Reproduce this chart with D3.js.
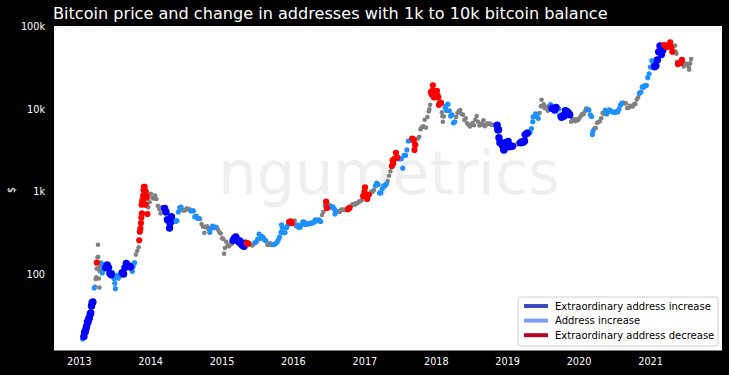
<!DOCTYPE html>
<html><head><meta charset="utf-8">
<script src="https://cdn.jsdelivr.net/npm/d3@7"></script>
<style>body{margin:0;background:#000}svg{display:block}</style>
</head><body>
<svg id="chart" width="729" height="375"></svg>
<script>
// category codes: 0 = no significant change, 1 = address increase,
// 2 = extraordinary address increase, 3 = extraordinary address decrease
const dates = [
"2013-01-20","2013-01-24","2013-01-27","2013-01-31","2013-02-03","2013-02-07","2013-02-10","2013-02-14","2013-02-17","2013-02-21","2013-02-24","2013-02-28","2013-03-03","2013-03-07","2013-03-10","2013-03-14","2013-03-17","2013-03-21","2013-03-24","2013-03-28","2013-03-31","2013-04-02","2013-04-03","2013-04-05","2013-04-07","2013-04-09","2013-04-10","2013-04-12","2013-04-14","2013-04-16","2013-04-18","2013-04-21","2013-04-24","2013-04-28","2013-05-01","2013-05-05","2013-05-12","2013-05-19","2013-05-26","2013-06-02","2013-06-09","2013-06-16","2013-06-23","2013-06-30","2013-07-04","2013-07-07","2013-07-14","2013-07-21","2013-07-28","2013-08-04","2013-08-11","2013-08-18","2013-08-25","2013-09-01","2013-09-08","2013-09-15","2013-09-22","2013-09-29","2013-10-02","2013-10-06","2013-10-13","2013-10-20","2013-10-27","2013-11-03","2013-11-06","2013-11-09","2013-11-12","2013-11-15","2013-11-17","2013-11-18","2013-11-20","2013-11-22","2013-11-24","2013-11-26","2013-11-28","2013-11-30","2013-12-02","2013-12-04","2013-12-06","2013-12-08","2013-12-10","2013-12-12","2013-12-15","2013-12-18","2013-12-22","2013-12-29",
"2014-01-05","2014-01-12","2014-01-19","2014-01-26","2014-02-02","2014-02-09","2014-02-16","2014-02-23","2014-03-02","2014-03-09","2014-03-16","2014-03-23","2014-03-30","2014-04-06","2014-04-10","2014-04-13","2014-04-20","2014-04-27","2014-05-04","2014-05-11","2014-05-18","2014-05-25","2014-06-01","2014-06-08","2014-06-15","2014-06-22","2014-06-29","2014-07-06","2014-07-13","2014-07-20","2014-07-27","2014-08-03","2014-08-10","2014-08-17","2014-08-24","2014-08-31","2014-09-07","2014-09-14","2014-09-21","2014-09-28","2014-10-05","2014-10-12","2014-10-19","2014-10-26","2014-11-02","2014-11-09","2014-11-16","2014-11-23","2014-11-30","2014-12-07","2014-12-14","2014-12-21","2014-12-28",
"2015-01-04","2015-01-11","2015-01-14","2015-01-18","2015-01-25","2015-02-01","2015-02-08","2015-02-15","2015-02-22","2015-03-01","2015-03-08","2015-03-15","2015-03-22","2015-03-29","2015-04-05","2015-04-12","2015-04-19","2015-04-26","2015-05-03","2015-05-10","2015-05-17","2015-05-24","2015-05-31","2015-06-07","2015-06-14","2015-06-21","2015-06-28","2015-07-05","2015-07-12","2015-07-19","2015-07-26","2015-08-02","2015-08-09","2015-08-16","2015-08-23","2015-08-30","2015-09-06","2015-09-13","2015-09-20","2015-09-27","2015-10-04","2015-10-11","2015-10-18","2015-10-25","2015-11-01","2015-11-04","2015-11-08","2015-11-15","2015-11-22","2015-11-29","2015-12-06","2015-12-13","2015-12-20","2015-12-27",
"2016-01-03","2016-01-10","2016-01-17","2016-01-24","2016-01-31","2016-02-07","2016-02-14","2016-02-21","2016-02-28","2016-03-06","2016-03-13","2016-03-20","2016-03-27","2016-04-03","2016-04-10","2016-04-17","2016-04-24","2016-05-01","2016-05-08","2016-05-15","2016-05-22","2016-05-29","2016-06-05","2016-06-12","2016-06-16","2016-06-19","2016-06-23","2016-06-26","2016-07-03","2016-07-10","2016-07-17","2016-07-24","2016-07-31","2016-08-03","2016-08-07","2016-08-14","2016-08-21","2016-08-28","2016-09-04","2016-09-11","2016-09-18","2016-09-25","2016-10-02","2016-10-09","2016-10-16","2016-10-23","2016-10-30","2016-11-06","2016-11-13","2016-11-20","2016-11-27","2016-12-04","2016-12-11","2016-12-18","2016-12-25",
"2017-01-01","2017-01-04","2017-01-08","2017-01-15","2017-01-22","2017-01-29","2017-02-05","2017-02-12","2017-02-19","2017-02-26","2017-03-05","2017-03-12","2017-03-19","2017-03-26","2017-04-02","2017-04-09","2017-04-16","2017-04-23","2017-04-30","2017-05-07","2017-05-14","2017-05-21","2017-05-25","2017-05-28","2017-06-04","2017-06-11","2017-06-18","2017-06-25","2017-07-02","2017-07-09","2017-07-16","2017-07-23","2017-07-30","2017-08-06","2017-08-13","2017-08-20","2017-08-27","2017-09-03","2017-09-10","2017-09-14","2017-09-17","2017-09-24","2017-10-01","2017-10-08","2017-10-15","2017-10-22","2017-10-29","2017-11-05","2017-11-12","2017-11-19","2017-11-26","2017-11-29","2017-12-03","2017-12-07","2017-12-10","2017-12-14","2017-12-17","2017-12-20","2017-12-22","2017-12-24","2017-12-31",
"2018-01-07","2018-01-10","2018-01-14","2018-01-17","2018-01-21","2018-01-28","2018-02-01","2018-02-04","2018-02-06","2018-02-11","2018-02-18","2018-02-21","2018-02-25","2018-03-04","2018-03-11","2018-03-18","2018-03-25","2018-04-01","2018-04-08","2018-04-15","2018-04-22","2018-04-29","2018-05-06","2018-05-13","2018-05-20","2018-05-27","2018-06-03","2018-06-10","2018-06-17","2018-06-24","2018-07-01","2018-07-08","2018-07-15","2018-07-22","2018-07-29","2018-08-05","2018-08-12","2018-08-19","2018-08-26","2018-09-02","2018-09-09","2018-09-16","2018-09-23","2018-09-30","2018-10-07","2018-10-14","2018-10-21","2018-10-28","2018-11-04","2018-11-11","2018-11-14","2018-11-18","2018-11-20","2018-11-25","2018-12-02","2018-12-09","2018-12-15","2018-12-16","2018-12-23","2018-12-30",
"2019-01-06","2019-01-13","2019-01-20","2019-01-27","2019-02-03","2019-02-10","2019-02-17","2019-02-24","2019-03-03","2019-03-10","2019-03-17","2019-03-24","2019-03-31","2019-04-03","2019-04-07","2019-04-14","2019-04-21","2019-04-28","2019-05-05","2019-05-12","2019-05-14","2019-05-19","2019-05-26","2019-06-02","2019-06-09","2019-06-16","2019-06-23","2019-06-26","2019-06-30","2019-07-07","2019-07-14","2019-07-21","2019-07-28","2019-08-04","2019-08-11","2019-08-18","2019-08-25","2019-09-01","2019-09-08","2019-09-15","2019-09-22","2019-09-25","2019-09-29","2019-10-06","2019-10-13","2019-10-20","2019-10-26","2019-11-03","2019-11-10","2019-11-17","2019-11-24","2019-12-01","2019-12-08","2019-12-15","2019-12-22","2019-12-29",
"2020-01-05","2020-01-12","2020-01-19","2020-01-26","2020-02-02","2020-02-09","2020-02-16","2020-02-23","2020-03-01","2020-03-08","2020-03-12","2020-03-15","2020-03-22","2020-03-29","2020-04-05","2020-04-12","2020-04-19","2020-04-26","2020-05-03","2020-05-10","2020-05-17","2020-05-24","2020-05-31","2020-06-07","2020-06-14","2020-06-21","2020-06-28","2020-07-05","2020-07-12","2020-07-19","2020-07-26","2020-08-02","2020-08-09","2020-08-16","2020-08-23","2020-08-30","2020-09-06","2020-09-13","2020-09-20","2020-09-27","2020-10-04","2020-10-11","2020-10-18","2020-10-25","2020-11-01","2020-11-08","2020-11-15","2020-11-22","2020-11-29","2020-12-06","2020-12-13","2020-12-20","2020-12-27",
"2021-01-03","2021-01-10","2021-01-17","2021-01-24","2021-01-31","2021-02-07","2021-02-14","2021-02-21","2021-02-28","2021-03-07","2021-03-14","2021-03-21","2021-03-28","2021-04-04","2021-04-11","2021-04-14","2021-04-18","2021-04-25","2021-05-02","2021-05-09","2021-05-12","2021-05-16","2021-05-19","2021-05-23","2021-05-30","2021-06-06","2021-06-13","2021-06-20","2021-06-22","2021-06-27","2021-07-04","2021-07-11","2021-07-18","2021-07-20","2021-07-25","2021-07-30"
];
const prices = [
16.8,17.5,18.0,20.4,20.6,22.5,24.0,27.0,26.8,29.5,30.0,33.4,34.5,42,46,47,47,69,72,89,93,118,140,142,162,230,165,120,90,70,110,125,140,135,105,115,117,122,131,122,104,100,106,90,79,68,98,91,95,105,106,102,122,137,126,127,124,132,110,126,140,175,195,215,260,330,360,420,490,700,550,790,800,900,1050,1150,1050,1150,900,700,1000,900,850,540,650,750,
950,850,830,900,820,680,620,550,650,630,630,570,460,450,365,420,500,450,440,440,450,570,640,655,600,595,600,630,620,620,590,590,590,500,510,480,480,470,410,380,320,375,385,355,325,365,385,370,375,375,350,325,315,
275,270,180,210,250,225,220,235,235,260,275,285,265,250,255,235,225,220,240,240,237,240,230,225,233,245,250,270,310,275,290,280,265,257,230,228,240,230,230,232,238,245,262,285,325,400,370,320,323,370,395,435,440,420,
430,450,385,400,375,375,400,435,430,405,410,410,418,420,420,430,460,445,460,455,440,525,575,680,760,760,640,630,700,650,665,660,620,540,590,570,580,570,610,607,610,600,610,617,640,655,700,710,700,730,730,765,770,790,890,
1000,1130,900,820,920,920,1010,1000,1050,1180,1270,1230,970,970,1090,1180,1180,1250,1350,1560,1770,2050,2400,2200,2500,2950,2600,2500,2500,2500,1930,2750,2750,3200,4100,4100,4350,4400,4200,3200,3700,3680,4400,4600,5700,6000,6150,7400,5950,8000,9300,9900,11200,16000,15000,16500,19300,16500,13800,13900,14100,
16500,14500,13700,11200,11600,11800,9100,8200,7000,8100,10400,10800,9600,11400,9500,8200,8500,6800,7000,8000,8900,9400,9700,8700,8500,7350,7700,6700,6500,6150,6350,6750,6350,7400,8200,7000,6300,6400,6700,7300,6200,6500,6700,6600,6600,6450,6400,6350,6400,6350,5600,5600,4500,3900,4100,3600,3200,3250,3900,3900,
4050,3500,3550,3550,3450,3650,3700,3850,3800,3900,4000,3950,4100,4900,5200,5100,5300,5200,5800,7000,8000,8100,8700,8600,7700,8900,10800,12900,10800,11400,10200,10500,9500,11000,11300,10200,10100,9700,10400,10300,10000,8400,8000,7950,8300,8200,9500,9300,9000,8500,7000,7400,7500,7100,7500,7300,
7700,8150,8700,8600,9300,10100,9900,9700,8500,8100,4900,5400,5800,5900,6800,6900,7100,7700,8900,8700,9700,8700,9450,9750,9400,9300,9100,9100,9300,9200,9900,11100,11700,11900,11650,11700,10250,10300,10900,10800,10700,11400,11500,13000,13800,15500,16000,18400,18200,19100,19200,23800,26500,
32000,38300,36000,32300,33100,39000,48800,57500,45200,51000,59000,57500,55800,58200,60000,63500,56000,49000,56400,58200,49200,46400,37000,34700,35600,35800,39000,35500,32500,34700,35300,34250,31800,29800,35400,39900
];
const cats = [
1,1,2,2,2,2,2,2,2,2,2,2,2,2,2,2,1,1,0,0,0,0,3,0,0,0,0,0,0,0,0,0,0,1,1,1,1,2,2,2,2,2,1,1,1,1,1,1,1,1,2,2,2,2,2,2,2,1,1,1,1,0,0,0,3,3,3,3,3,3,3,3,3,3,3,3,3,3,3,3,3,3,3,3,0,0,
0,0,0,0,0,0,0,0,0,0,2,2,2,2,2,2,2,1,1,1,1,1,1,1,0,0,0,0,0,0,1,1,1,1,1,1,1,0,0,0,0,0,0,0,1,1,1,1,1,0,0,0,0,
0,0,0,0,0,0,0,0,0,2,2,2,2,2,2,2,2,2,2,3,3,0,0,0,0,1,1,1,1,1,1,1,1,1,0,0,0,0,1,1,1,1,1,1,1,1,1,1,1,1,1,3,3,3,
0,0,0,1,1,1,1,1,1,1,1,1,1,1,1,1,1,1,1,1,1,0,0,0,0,3,3,0,0,1,1,1,1,1,1,0,0,0,0,0,0,0,0,3,3,0,0,0,0,0,0,0,0,0,3,
3,3,3,3,3,0,0,0,0,1,1,1,1,1,1,1,1,1,0,0,0,3,3,3,3,3,3,1,1,1,1,1,1,1,1,0,0,3,3,3,3,0,0,0,0,0,0,0,0,0,0,0,0,3,3,3,3,3,3,3,3,
3,3,3,3,3,3,0,0,0,0,1,1,1,1,1,1,1,1,1,0,0,0,0,0,0,0,0,0,0,0,0,0,0,0,0,0,0,0,0,0,0,0,0,0,0,0,0,0,0,2,2,2,2,2,1,2,2,2,2,2,
2,2,2,2,0,0,0,0,0,2,2,2,2,2,1,2,1,1,1,1,1,1,1,1,1,0,0,0,0,0,0,0,0,0,1,2,2,2,2,1,1,1,1,2,2,2,2,2,2,2,0,0,0,0,0,0,
0,0,0,0,0,0,1,1,1,1,1,1,0,0,0,0,0,0,0,0,1,1,1,1,1,1,1,1,1,1,1,1,1,0,0,0,0,0,0,0,0,0,0,0,0,1,1,1,1,1,1,1,1,
1,1,1,2,2,2,2,2,2,2,3,3,3,3,3,3,3,3,0,0,0,0,0,3,3,3,3,0,0,0,0,0,0,0,0,0
];
const seriesNames = ["No significant change","Address increase","Extraordinary address increase","Extraordinary address decrease"];
const seriesColors = ["#808080","#1e90ff","#0000ff","#ff0000"];
const legendNames = ["Extraordinary address increase","Address increase","Extraordinary address decrease"];
const legendColors = ["#3b4cc0","#7b9ff9","#b40426"];
const yTickValues = [100,1000,10000,100000];
const yTickLabels = ["100","1k","10k","100k"];
const xTickYears = [2013,2014,2015,2016,2017,2018,2019,2020,2021];
const titleText = "Bitcoin price and change in addresses with 1k to 10k bitcoin balance";

const parse = d3.utcParse("%Y-%m-%d");
const data = dates.map((d,i)=>({date:parse(d), price:prices[i], cat:cats[i]}));

const svg = d3.select("#chart");
const W = 729, H = 375;
const m = {left:54, right:7, top:26, bottom:24.5};
svg.append("rect").attr("width",W).attr("height",H).attr("fill","#000");

const x = d3.scaleUtc()
  .domain([parse("2012-08-27"), parse("2022-01-04")])
  .range([m.left, W - m.right]);
const y = d3.scaleLog()
  .domain([12.2, 100000])
  .range([H - m.bottom, m.top]);

svg.append("rect")
  .attr("x", m.left).attr("y", m.top)
  .attr("width", W - m.left - m.right).attr("height", H - m.top - m.bottom)
  .attr("fill", "#fff");

// watermark
svg.append("text")
  .attr("x", (m.left + W - m.right)/2 + 1)
  .attr("y", 194)
  .attr("text-anchor","middle")
  .attr("font-family","DejaVu Sans")
  .attr("font-size", 60.5)
  .attr("fill","#efefef")
  .text("ngumetrics");

const radius = [2.3, 2.6, 3.7, 3.1];
const plot = svg.append("g");
[0,1,2,3].forEach(c => {
  plot.append("g").attr("class","series-"+c)
    .selectAll("circle")
    .data(data.filter(d=>d.cat===c))
    .join("circle")
    .attr("cx", d=>x(d.date))
    .attr("cy", d=>y(d.price))
    .attr("r", radius[c])
    .attr("fill", seriesColors[c]);
});

// axes
const xAxis = d3.axisBottom(x)
  .tickValues(xTickYears.map(yr=>new Date(Date.UTC(yr,0,1))))
  .tickFormat(d3.utcFormat("%Y")).tickSize(0).tickPadding(8);
const gx = svg.append("g").attr("transform",`translate(0,${H-m.bottom})`).call(xAxis);
gx.select(".domain").remove();
gx.selectAll("text").attr("fill","#fff").attr("font-family","DejaVu Sans").attr("font-size",9.7);

const yAxis = d3.axisLeft(y).tickValues(yTickValues)
  .tickFormat((d,i)=>yTickLabels[i]).tickSize(0).tickPadding(9);
const gy = svg.append("g").attr("transform",`translate(${m.left},0)`).call(yAxis);
gy.select(".domain").remove();
gy.selectAll("text").attr("fill","#fff").attr("font-family","DejaVu Sans").attr("font-size",9.7);

svg.append("text")
  .attr("transform","translate(15,190) rotate(-90)")
  .attr("text-anchor","middle")
  .attr("font-family","DejaVu Sans").attr("font-size",9.7).attr("fill","#fff")
  .text("$");

svg.append("text")
  .attr("x",53).attr("y",19)
  .attr("font-family","DejaVu Sans").attr("font-size",16.1).attr("fill","#fff")
  .text(titleText);

// legend
const lg = svg.append("g");
lg.append("rect").attr("x",518).attr("y",297).attr("width",200).attr("height",49)
  .attr("rx",2).attr("fill","#fff").attr("stroke","#d0d0d0").attr("stroke-width",1);
legendNames.forEach((name,i)=>{
  const yy = 306 + i*14.6;
  lg.append("line").attr("x1",524).attr("x2",548).attr("y1",yy).attr("y2",yy)
    .attr("stroke",legendColors[i]).attr("stroke-width",4);
  lg.append("text").attr("x",555).attr("y",yy+3.5)
    .attr("font-family","DejaVu Sans").attr("font-size",10).attr("fill","#000")
    .text(name);
});
</script>
</body></html>
